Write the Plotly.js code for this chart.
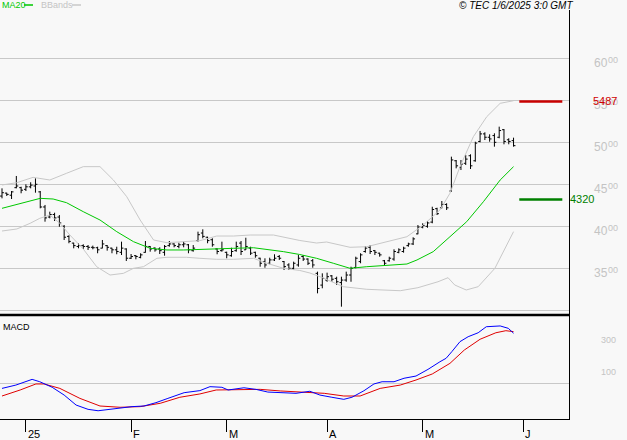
<!DOCTYPE html>
<html>
<head>
<meta charset="utf-8">
<script src="https://cdn.plot.ly/plotly-3.0.1.min.js"></script>
<style>
  html, body { margin: 0; padding: 0; background: #f8f8f8; }
  #chart { width: 627px; height: 440px; }
</style>
</head>
<body>
<div id="chart"></div>
<script>
// ---- Price bars (trading-day index 0 = 23 Dec 2024) ----
const opens = [4360,4395,4370,4460,4460,4440,4470,4480,4410,4230,
 4110,4140,4110,4000,3880,3800,3760,3770,3760,3750,
 3745,3740,3770,3740,3720,3690,3730,3620,3650,3630,
 3690,3760,3740,3730,3690,3770,3790,3760,3780,3780,
 3710,3830,3920,3870,3840,3730,3710,3690,3650,3710,
 3800,3720,3740,3690,3620,3580,3560,3600,3640,3580,
 3540,3500,3540,3640,3610,3590,3440,3300,3360,3410,
 3380,3330,3360,3420,3510,3580,3700,3750,3710,3680,
 3590,3590,3610,3690,3700,3770,3790,3910,3990,4000,
 4050,4210,4220,4260,4420,4780,4700,4750,4840,4780,
 5010,5100,5060,5080,5060,5150,5030,5020];
const highs = [4452,4400,4420,4599,4471,4500,4524,4571,4420,4254,
 4174,4162,4134,4015,3893,3805,3798,3786,3777,3770,
 3757,3837,3777,3745,3757,3817,3738,3670,3658,3679,
 3825,3765,3750,3750,3777,3825,3798,3805,3817,3789,
 3777,3936,3964,3876,3857,3738,3817,3698,3745,3817,
 3825,3864,3757,3698,3626,3619,3626,3667,3658,3587,
 3560,3579,3658,3658,3619,3611,3460,3440,3448,3420,
 3400,3400,3460,3519,3638,3679,3765,3777,3718,3686,
 3599,3638,3726,3738,3757,3805,3869,4015,4036,4063,
 4233,4221,4301,4274,4829,4789,4789,4849,4857,5007,
 5135,5119,5095,5107,5186,5158,5048,5055];
const lows = [4333,4361,4325,4452,4393,4420,4452,4400,4214,4055,
 4095,4063,3995,3837,3798,3738,3738,3730,3718,3726,
 3679,3738,3710,3679,3667,3658,3587,3611,3607,3619,
 3686,3698,3698,3670,3650,3757,3750,3738,3750,3679,
 3698,3817,3857,3798,3757,3667,3698,3619,3638,3698,
 3658,3718,3658,3626,3519,3507,3548,3587,3599,3480,
 3480,3480,3519,3587,3539,3507,3202,3262,3340,3340,
 3301,3043,3340,3340,3500,3560,3686,3670,3658,3638,
 3539,3579,3590,3679,3686,3757,3777,3905,3976,3983,
 4036,4134,4214,4194,4412,4690,4670,4730,4682,4769,
 5000,5027,5007,4948,5048,4976,4976,4948];
const closes = [4400,4380,4410,4480,4430,4470,4490,4500,4230,4100,
 4140,4100,4040,3870,3820,3770,3770,3760,3750,3745,
 3720,3790,3750,3720,3700,3740,3620,3640,3640,3660,
 3760,3730,3720,3710,3760,3790,3770,3780,3790,3720,
 3740,3900,3880,3830,3780,3700,3720,3660,3700,3760,
 3700,3760,3680,3650,3560,3540,3600,3620,3620,3520,
 3500,3560,3620,3610,3560,3540,3260,3380,3400,3370,
 3340,3360,3420,3500,3620,3660,3740,3700,3690,3660,
 3560,3620,3700,3720,3740,3790,3850,3990,4010,4040,
 4200,4150,4260,4220,4790,4720,4740,4800,4720,4990,
 5100,5060,5040,5000,5140,5010,5010,4960];

// ---- MA20 ----
const maIdx = [0,3.8,8,10.7,13.5,17,20.5,24,27.5,31,34.5,38,41.4,45,48.4,52.6,55.4,58.9,62.3,65.8,69.3,72.8,76.3,80.5,84.7,86.8,90.2,93.7,97.2,100.7,104.2,107];
const maVal = [4214,4274,4333,4325,4281,4174,4075,3936,3817,3738,3718,3718,3726,3738,3738,3745,3726,3698,3664,3619,3560,3500,3519,3531,3551,3599,3698,3876,4055,4293,4551,4710];

// ---- Bollinger bands ----
const upIdx = [0,3.1,6.5,10,13.5,17,20.5,23.3,26.1,28.9,31.7,34.5,37.9,41.4,44.9,48.4,51.9,56.8,62.3,65.8,67.9,72.8,76.3,80.5,84.7,88.1,91.6,93.7,95.8,98.6,101.4,104.2,107];
const upVal = [4492,4519,4583,4551,4631,4710,4710,4551,4352,4075,3837,3805,3817,3829,3884,3884,3896,3896,3831,3801,3813,3750,3757,3817,3876,4015,4194,4393,4710,5067,5305,5464,5495];
const loIdx = [0,3.1,5.9,7.9,10,12.1,14.2,17,19.8,22.6,25.4,27.5,29.6,32.4,34.5,38.6,41.4,44.9,48.4,52.6,55.4,58.9,62.3,64.4,66.5,71.4,76.3,83.3,87,91.2,93.3,94.7,97.1,99.6,103.1,107];
const loVal = [3944,3968,4036,4095,4134,4036,3896,3729,3519,3420,3440,3500,3519,3619,3631,3631,3619,3607,3607,3619,3560,3500,3474,3444,3400,3281,3250,3233,3269,3340,3388,3301,3242,3281,3500,3936];

// ---- MACD ----
const macdIdx = [0,2.9,6.3,7.9,10.5,13,15.5,18,20.1,22.2,24.7,27.2,29.7,32.2,34.7,38.1,41.4,43.5,46,47.3,50.6,53.1,55.6,61.5,64.4,66.5,69,71.5,73.2,75.7,77.8,79.5,82,84.1,86.6,89.1,91.6,92.9,94.1,95.8,97.5,99.6,101.3,104.2,105.9,107];
const macdVal = [-34,-13,23,8,-27,-76,-139,-166,-175,-166,-160,-149,-145,-124,-97,-61,-48,-23,-27,-44,-30,-40,-57,-65,-52,-76,-90,-103,-90,-49,-6,8,8,30,44,86,134,156,198,261,292,317,355,360,345,314];
const sigIdx = [0,3.8,7.1,8.8,12.1,16.3,20.5,24.7,28.9,33.1,37.2,41.4,44.8,49.8,54,58.2,63.2,67.4,71.5,74.9,79.1,83.3,86.6,90,93.7,96.7,100,103.3,105.4,107];
const sigVal = [-82,-44,-6,-6,-34,-97,-145,-153,-149,-128,-90,-69,-44,-40,-40,-50,-57,-65,-82,-82,-34,-13,19,57,124,208,276,317,330,324];

// ---- Axis ticks ----
const monthIdx = [5,27,47,68,88,109];
const monthLabels = ['25','F','M','A','M','J'];
const priceTicks = [3000,3500,4000,4500,5000,5500,6000];
const priceLabelVals = [3500,4000,4500,5000,5500,6000];
const priceLabelHead = ['35','40','45','50','55','60'];
const priceLabelTail = ['00','00','00','00','00','00'];
const macdTicks = [100,300];
const macdTickText = ['100','300'];

// ---- Levels ----
const resistance = 5487;
const support = 4320;

const idx = closes.map((_, i) => i);
const FONT = 'Liberation Sans, Arial, sans-serif';

const traces = [
  { type: 'scatter', mode: 'lines', x: upIdx, y: upVal, xaxis: 'x', yaxis: 'y',
    line: { color: '#c8c8c8', width: 1 }, hoverinfo: 'skip' },
  { type: 'scatter', mode: 'lines', x: loIdx, y: loVal, xaxis: 'x', yaxis: 'y',
    line: { color: '#c8c8c8', width: 1 }, hoverinfo: 'skip' },
  { type: 'scatter', mode: 'lines', x: maIdx, y: maVal, xaxis: 'x', yaxis: 'y',
    line: { color: '#00c800', width: 1 }, hoverinfo: 'skip' },
  { type: 'ohlc', x: idx, open: opens, high: highs, low: lows, close: closes,
    xaxis: 'x', yaxis: 'y', tickwidth: 0.4,
    increasing: { line: { color: '#000000', width: 1 } },
    decreasing: { line: { color: '#000000', width: 1 } }, hoverinfo: 'skip' },
  { type: 'scatter', mode: 'lines', x: sigIdx, y: sigVal, xaxis: 'x', yaxis: 'y2',
    line: { color: '#e00000', width: 1 }, hoverinfo: 'skip' },
  { type: 'scatter', mode: 'lines', x: macdIdx, y: macdVal, xaxis: 'x', yaxis: 'y2',
    line: { color: '#0000ff', width: 1 }, hoverinfo: 'skip' }
];

// pixel helpers for paper coordinates (plot area: x 0..569, y 10..419)
const PW = 569, PH = 409, PB = 419;
const px = v => v / PW;
const py = v => (PB - v) / PH;
const split = py(315);

const annotations = [
  { text: 'MA20', xref: 'paper', yref: 'paper', x: px(0), y: py(5), xanchor: 'left', yanchor: 'middle',
    showarrow: false, font: { family: FONT, size: 9, color: '#00c800' } },
  { text: 'BBands', xref: 'paper', yref: 'paper', x: px(39), y: py(5), xanchor: 'left', yanchor: 'middle',
    showarrow: false, font: { family: FONT, size: 9, color: '#c4c4c4' } },
  { text: '<i>© TEC 1/6/2025 3:0 GMT</i>', xref: 'paper', yref: 'paper', x: px(575), y: py(5),
    xanchor: 'right', yanchor: 'middle', showarrow: false, font: { family: FONT, size: 10, color: '#000' } },
  { text: 'MACD', xref: 'paper', yref: 'paper', x: px(1), y: py(327), xanchor: 'left', yanchor: 'middle',
    showarrow: false, font: { family: FONT, size: 9, color: '#000' } }
];
// right-hand price labels (big digits + small raised "00")
priceLabelVals.forEach((v, k) => {
  annotations.push({ text: priceLabelHead[k], xref: 'paper', yref: 'y', x: px(592), y: v, yshift: -5,
    xanchor: 'left', yanchor: 'middle', showarrow: false,
    font: { family: FONT, size: 12, color: '#c4c4c4' } });
  annotations.push({ text: priceLabelTail[k], xref: 'paper', yref: 'y', x: px(606), y: v, yshift: -2,
    xanchor: 'left', yanchor: 'middle', showarrow: false,
    font: { family: FONT, size: 9, color: '#c4c4c4' } });
});
// MACD labels
macdTicks.forEach((v, k) => {
  annotations.push({ text: macdTickText[k], xref: 'paper', yref: 'y2', x: px(599), y: v, yshift: -5,
    xanchor: 'left', yanchor: 'middle', showarrow: false,
    font: { family: FONT, size: 9, color: '#c4c4c4' } });
});
// level labels
annotations.push({ text: String(resistance), xref: 'paper', yref: 'y', x: px(591), y: resistance,
  xanchor: 'left', yanchor: 'middle', showarrow: false, font: { family: FONT, size: 11, color: '#d00000' } });
annotations.push({ text: String(support), xref: 'paper', yref: 'y', x: px(568), y: support,
  xanchor: 'left', yanchor: 'middle', showarrow: false, font: { family: FONT, size: 11, color: '#008000' } });
// month labels
monthIdx.forEach((m, k) => {
  annotations.push({ text: monthLabels[k], xref: 'x', yref: 'paper', x: m, y: py(434),
    xanchor: 'left', yanchor: 'middle', showarrow: false,
    font: { family: FONT, size: 11, color: '#000' } });
});

const layout = {
  width: 627, height: 440,
  margin: { l: 0, r: 58, t: 10, b: 21, pad: 0 },
  paper_bgcolor: '#f8f8f8', plot_bgcolor: '#f8f8f8',
  showlegend: false,
  font: { family: FONT, size: 11, color: '#000' },
  xaxis: {
    domain: [0, 1], range: [-0.418, 118.6], anchor: 'y2',
    showgrid: false, zeroline: false,
    showline: true, linecolor: '#000', linewidth: 1,
    ticks: 'outside', ticklen: 12, tickcolor: '#000', tickwidth: 1,
    tickvals: monthIdx, showticklabels: false,
    rangeslider: { visible: false }, fixedrange: true
  },
  yaxis: {
    domain: [split, 1], range: [2944, 6575], side: 'right', anchor: 'x',
    showgrid: true, gridcolor: '#c8c8c8', gridwidth: 1, zeroline: false,
    showline: true, linecolor: '#000', linewidth: 1,
    tickvals: priceTicks, ticks: '', showticklabels: false, fixedrange: true
  },
  yaxis2: {
    domain: [0, split], range: [-227, 429], side: 'right', anchor: 'x',
    showgrid: false, zeroline: true, zerolinecolor: '#c8c8c8', zerolinewidth: 1,
    showline: true, linecolor: '#000', linewidth: 1,
    tickvals: macdTicks, ticks: '', showticklabels: false, fixedrange: true
  },
  shapes: [
    { type: 'line', xref: 'paper', yref: 'paper', x0: 0, x1: 1, y0: split, y1: split,
      line: { color: '#000', width: 2.5 } },
    { type: 'line', xref: 'x', yref: 'y', x0: 108.2, x1: 117.2, y0: resistance, y1: resistance,
      line: { color: '#c80000', width: 2.5 } },
    { type: 'line', xref: 'x', yref: 'y', x0: 108.2, x1: 117.2, y0: support, y1: support,
      line: { color: '#008000', width: 2.5 } },
    { type: 'line', xref: 'paper', yref: 'paper', x0: px(24), x1: px(33), y0: py(5), y1: py(5),
      line: { color: '#00c800', width: 1.5 } },
    { type: 'line', xref: 'paper', yref: 'paper', x0: px(72), x1: px(81), y0: py(5), y1: py(5),
      line: { color: '#c8c8c8', width: 1.5 } }
  ],
  annotations: annotations
};

Plotly.newPlot('chart', traces, layout, { staticPlot: true, displayModeBar: false });
</script>
</body>
</html>
